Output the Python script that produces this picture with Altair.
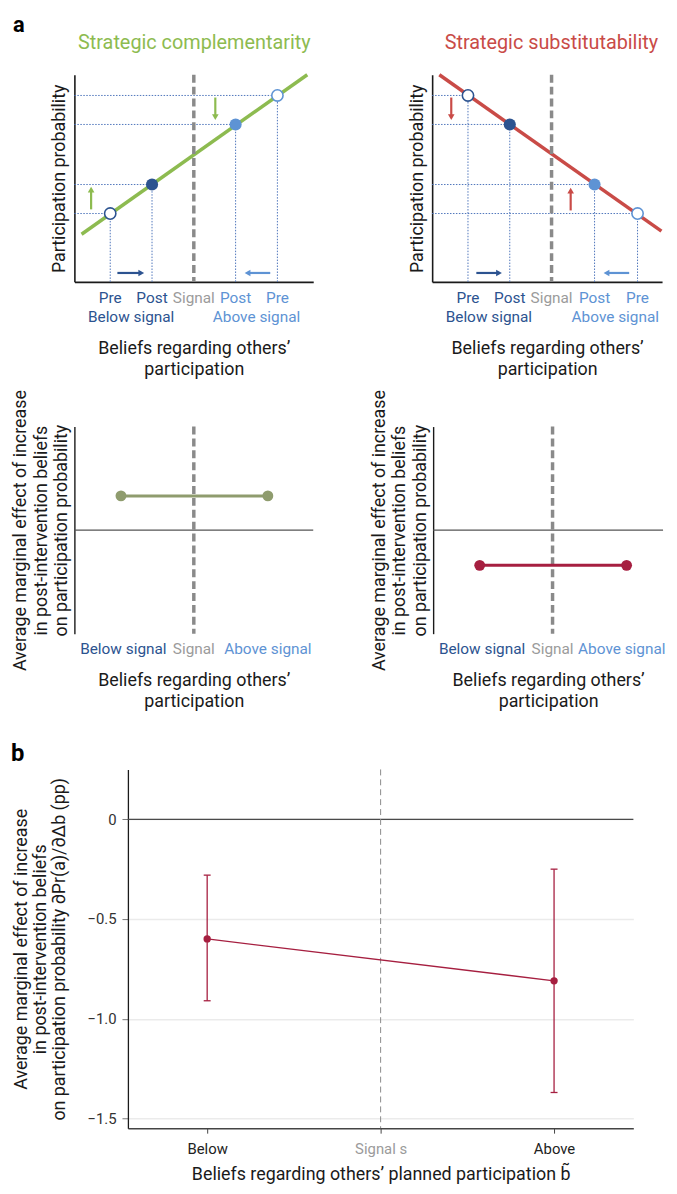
import altair as alt
import pandas as pd

# ---------------- data ----------------
# Panel a, top row: schematic beliefs (x) vs participation probability (y), 0-10 scale
comp_line_x = [0.3, 9.75]
comp_line_y = [2.3, 10.0]
subs_line_x = [0.3, 9.6]
subs_line_y = [10.0, 2.45]

pt_stage = ["Pre", "Post", "Post", "Pre"]
pt_side = ["below", "below", "above", "above"]
comp_pt_x = [1.5, 3.25, 6.75, 8.5]
comp_pt_y = [3.3, 4.7, 7.6, 9.0]
subs_pt_x = [1.5, 3.25, 6.8, 8.6]
subs_pt_y = [9.0, 7.6, 4.7, 3.3]
signal_x = [5.0]

arrow_kind = ["effect", "effect", "below", "above"]
comp_arrow_dir = ["up", "down", "right", "left"]
comp_arrow_x = [0.7, 5.9, 1.8, 8.2]
comp_arrow_y = [3.5, 8.9, 0.43, 0.43]
comp_arrow_x2 = [0.7, 5.9, 2.8, 7.25]
comp_arrow_y2 = [4.45, 7.95, 0.43, 0.43]
subs_arrow_dir = ["down", "up", "right", "left"]
subs_arrow_x = [0.8, 5.8, 1.85, 8.25]
subs_arrow_y = [8.9, 3.45, 0.43, 0.43]
subs_arrow_x2 = [0.8, 5.8, 2.8, 7.3]
subs_arrow_y2 = [7.95, 4.4, 0.43, 0.43]

tick_text = ["Pre", "Post", "Signal", "Post", "Pre"]
tick_side = ["below", "below", "signal", "above", "above"]
comp_tick_x = [1.5, 3.25, 5.0, 6.75, 8.5]
subs_tick_x = [1.5, 3.25, 5.0, 6.8, 8.6]
group_text = ["Below signal", "Above signal"]
group_side = ["below", "above"]
comp_group_x = [2.375, 7.625]
comp_group_align = ["center", "center"]
subs_group_x = [2.375, 9.5]
subs_group_align = ["center", "right"]

# Panel a, middle row: schematic average marginal effect (-1..1)
mid_x = [1.95, 8.1]
comp_effect = [0.33, 0.33]
subs_effect = [-0.34, -0.34]
mid_label_text = ["Below signal", "Signal", "Above signal"]
mid_label_side = ["below", "signal", "above"]
comp_mid_label_x = [2.05, 5.0, 8.1]
comp_mid_align = ["center", "center", "center"]
subs_mid_label_x = [2.05, 5.0, 7.9]
subs_mid_align = ["center", "center", "center"]

# Panel b: estimates with 95% CI
b_group = ["Below", "Above"]
b_x = [1, 3]
b_est = [-0.60, -0.81]
b_lo = [-0.91, -1.37]
b_hi = [-0.28, -0.25]
b_tick_x = [1, 2, 3]
b_tick_text = ["Below", "Signal s", "Above"]
b_signal_x = [2]
b_y_ticks = [0, -0.5, -1.0, -1.5]

# ---------------- styling ----------------
FONT = "Roboto"
NAVY = "#2c5390"
LBLUE = "#5e93d4"
SGRAY = "#9b9b9b"
GREEN = "#8dbb50"
RED = "#c94b47"
OLIVE = "#8f9c6e"
CRIMSON = "#a61f40"
DOT = "#4f75bb"
DASH = "#8a8a8a"
INK = "#1a1a1a"
SIDE_COLOR = {"below": NAVY, "signal": SGRAY, "above": LBLUE}
SHAPE = {"up": "triangle-up", "down": "triangle-down",
         "right": "triangle-right", "left": "triangle-left"}

H = 209
BELIEF_TITLE = ["Beliefs regarding others\u2019", "participation"]
AME_TITLE = ["Average marginal effect of increase", "in post-intervention beliefs",
             "on participation probability"]
ONE = pd.DataFrame({"k": [0]})


def anchors(points):
    """Invisible layout anchors that fix the extent of a row."""
    return [alt.Chart(ONE).mark_square(size=1, opacity=0, strokeWidth=0).encode(
        x=alt.value(px), y=alt.value(py)) for px, py in points]


def label_layers(df, aligns, X, ypix):
    """Text labels, one layer per horizontal alignment."""
    df = df.copy()
    df["a"] = aligns
    out = []
    for a in dict.fromkeys(aligns):
        out.append(alt.Chart(df[df.a == a]).mark_text(
            fontSize=15.5, baseline="middle", align=a).encode(
            x=X("x:Q"), y=alt.value(ypix), text="t:N",
            color=alt.Color("c:N", scale=None)))
    return out


def top_panel(title, tcolor, title_x, title_align, lcolor, line_x, line_y, px, py,
              ax, ay, ax2, ay2, adir, tx, gx, galign, width, xmax,
              letter=None, extent=None):
    xs = alt.Scale(domain=[0, xmax], nice=False, zero=False)
    ys = alt.Scale(domain=[0, 10], nice=False, zero=False)
    xaxis = alt.Axis(title=BELIEF_TITLE, labels=False, ticks=False, grid=False,
                     domainColor=INK, domainWidth=1.6, titlePadding=58,
                     titleFontSize=18, titleLineHeight=21, titleColor=INK,
                     titleFontWeight="normal")
    yaxis = alt.Axis(title="Participation probability", labels=False, ticks=False,
                     grid=False, domainColor=INK, domainWidth=1.6,
                     titlePadding=6, titleFontSize=18, titleColor=INK,
                     titleFontWeight="normal")

    def X(f):
        return alt.X(f, scale=xs, axis=xaxis)

    def Y(f):
        return alt.Y(f, scale=ys, axis=yaxis)

    pts = pd.DataFrame({"x": px, "y": py, "stage": pt_stage, "side": pt_side})
    pts["x0"] = 0.0
    pts["y0"] = 0.0
    pts["c"] = [SIDE_COLOR[s] for s in pt_side]
    dotted = dict(color=DOT, strokeDash=[1.5, 1.5], strokeWidth=1)
    hguide = alt.Chart(pts).mark_rule(**dotted).encode(x=X("x0:Q"), x2="x:Q", y=Y("y:Q"))
    vguide = alt.Chart(pts).mark_rule(**dotted).encode(x=X("x:Q"), y=Y("y0:Q"), y2="y:Q")
    sig = alt.Chart(pd.DataFrame({"x": signal_x})).mark_rule(
        color=DASH, strokeWidth=3.5, strokeDash=[8, 4]).encode(x=X("x:Q"))
    ln = alt.Chart(pd.DataFrame({"x": line_x, "y": line_y})).mark_line(
        color=lcolor, strokeWidth=3.5).encode(x=X("x:Q"), y=Y("y:Q"))
    post = alt.Chart(pts[pts.stage == "Post"]).mark_circle(size=150, opacity=1).encode(
        x=X("x:Q"), y=Y("y:Q"), color=alt.Color("c:N", scale=None))
    pre = alt.Chart(pts[pts.stage == "Pre"]).mark_point(
        shape="circle", fill="white", filled=False, size=130, strokeWidth=1.6,
        opacity=1).encode(x=X("x:Q"), y=Y("y:Q"), color=alt.Color("c:N", scale=None))
    arr = pd.DataFrame({"x": ax, "y": ay, "x2": ax2, "y2": ay2,
                        "kind": arrow_kind, "dir": adir})
    arr["c"] = [lcolor if k == "effect" else SIDE_COLOR[k] for k in arrow_kind]
    arr["s"] = [SHAPE[d] for d in adir]
    shaft = alt.Chart(arr).mark_rule(strokeWidth=2.2).encode(
        x=X("x:Q"), y=Y("y:Q"), x2="x2:Q", y2="y2:Q", color=alt.Color("c:N", scale=None))
    head = alt.Chart(arr).mark_point(filled=True, size=45, opacity=1).encode(
        x=X("x2:Q"), y=Y("y2:Q"), shape=alt.Shape("s:N", scale=None),
        color=alt.Color("c:N", scale=None))
    tdf = pd.DataFrame({"x": tx, "t": tick_text})
    tdf["c"] = [SIDE_COLOR[s] for s in tick_side]
    ticks = label_layers(tdf, ["center"] * len(tick_text), X, H + 16)
    gdf = pd.DataFrame({"x": gx, "t": group_text})
    gdf["c"] = [SIDE_COLOR[s] for s in group_side]
    groups = label_layers(gdf, galign, X, H + 35)
    ttl = alt.Chart(pd.DataFrame({"t": [title]})).mark_text(
        fontSize=20, color=tcolor, baseline="middle", align=title_align).encode(
        x=alt.value(title_x), y=alt.value(-32), text="t:N")
    layers = [hguide, vguide, ln, sig, pre, post, shaft, head, *ticks, *groups, ttl]
    if letter:
        layers.append(alt.Chart(pd.DataFrame({"t": [letter]})).mark_text(
            fontSize=22, fontWeight="bold", align="left", baseline="middle",
            color="#000").encode(x=alt.value(-62), y=alt.value(-50), text="t:N"))
    if extent:
        layers += anchors(extent)
    return alt.layer(*layers).properties(width=width, height=H)


def mid_panel(color, effect, label_x, label_align, width, xmax, extent=None):
    xs = alt.Scale(domain=[0, xmax], nice=False, zero=False)
    ys = alt.Scale(domain=[-1, 1], nice=False, zero=False)
    yaxis = alt.Axis(title=AME_TITLE, labels=False, ticks=False, grid=False,
                     domainColor=INK, domainWidth=1.4, titlePadding=4, titleFontSize=18,
                     titleLineHeight=20.5, titleColor=INK, titleFontWeight="normal")
    xaxis = alt.Axis(title=BELIEF_TITLE, labels=False, ticks=False,
                     domain=False, grid=False, titlePadding=38, titleFontSize=18,
                     titleLineHeight=21, titleColor=INK, titleFontWeight="normal")

    def X(f):
        return alt.X(f, scale=xs, axis=xaxis)

    def Y(f):
        return alt.Y(f, scale=ys, axis=yaxis)

    zero = alt.Chart(pd.DataFrame({"y": [0.0]})).mark_rule(
        color="#555555", strokeWidth=1.3).encode(y=Y("y:Q"))
    sig = alt.Chart(pd.DataFrame({"x": signal_x})).mark_rule(
        color=DASH, strokeWidth=3.5, strokeDash=[8, 4]).encode(x=X("x:Q"))
    edf = pd.DataFrame({"x": mid_x, "y": effect})
    ln = alt.Chart(edf).mark_line(color=color, strokeWidth=3).encode(x=X("x:Q"), y=Y("y:Q"))
    pts = alt.Chart(edf).mark_circle(color=color, size=120, opacity=1).encode(
        x=X("x:Q"), y=Y("y:Q"))
    ldf = pd.DataFrame({"x": label_x, "t": mid_label_text})
    ldf["c"] = [SIDE_COLOR[s] for s in mid_label_side]
    labels = label_layers(ldf, label_align, X, H + 15)
    layers = [zero, sig, ln, pts, *labels]
    if extent:
        layers += anchors(extent)
    return alt.layer(*layers).properties(width=width, height=H)


PX = 24.1  # pixels per schematic unit in panel a
TL = top_panel("Strategic complementarity", GREEN, 121, "center", GREEN,
               comp_line_x, comp_line_y, comp_pt_x, comp_pt_y, comp_arrow_x,
               comp_arrow_y, comp_arrow_x2, comp_arrow_y2, comp_arrow_dir, comp_tick_x,
               comp_group_x, comp_group_align, 241, 241 / PX,
               letter="a", extent=[(-66, -61), (-66, 312)])
TR = top_panel("Strategic substitutability", RED, 228, "right", RED,
               subs_line_x, subs_line_y, subs_pt_x, subs_pt_y, subs_arrow_x,
               subs_arrow_y, subs_arrow_x2, subs_arrow_y2, subs_arrow_dir, subs_tick_x,
               subs_group_x, subs_group_align, 232, 232 / PX)
ML = mid_panel(OLIVE, comp_effect, comp_mid_label_x, comp_mid_align, 241, 241 / PX,
               extent=[(-66, -41), (-66, 296)])
MR = mid_panel(CRIMSON, subs_effect, subs_mid_label_x, subs_mid_align, 232, 232 / PX)

# ---- panel b ----
BW, BH = 510, 362
bxs = alt.Scale(domain=[0.543, 3.457], nice=False, zero=False)
bys = alt.Scale(domain=[-1.549, 0.25], nice=False, zero=False)
label_expr = " : ".join(
    f"datum.value == {v} ? '{t}'" for v, t in zip(b_tick_x[:-1], b_tick_text[:-1])
) + f" : '{b_tick_text[-1]}'"
bxaxis = alt.Axis(values=b_tick_x, labelExpr=label_expr, grid=False, domainColor="#444444",
                  domainWidth=1.5, tickColor="#444444", tickSize=5, labelPadding=9,
                  labelFontSize=15,
                  labelColor={"condition": {"test": "datum.value == 2", "value": SGRAY},
                              "value": "#222222"},
                  title="Beliefs regarding others\u2019 planned participation b\u0303",
                  titleFontSize=18, titleFontWeight="normal", titleColor=INK,
                  titlePadding=9)
byaxis = alt.Axis(values=b_y_ticks,
                  labelExpr="datum.value == 0 ? '0' : replace(format(datum.value, '.1f'), '-', '\u2212')",
                  grid=True, gridColor="#ebebeb", gridWidth=1.5, domainColor=INK,
                  domainWidth=1.3, tickColor="#777777", tickSize=6, labelPadding=6,
                  labelFontSize=15, labelColor="#333333",
                  title=AME_TITLE[:2] + ["on participation probability \u2202Pr(a)/\u2202\u0394b (pp)"],
                  titleFontSize=18, titleLineHeight=19, titleFontWeight="normal",
                  titleColor=INK, titlePadding=19)


def BX(f):
    return alt.X(f, scale=bxs, axis=bxaxis)


def BY(f):
    return alt.Y(f, scale=bys, axis=byaxis)


bdf = pd.DataFrame({"x": b_x, "est": b_est, "lo": b_lo, "hi": b_hi, "grp": b_group})
b_zero = alt.Chart(pd.DataFrame({"y": [0.0]})).mark_rule(
    color="#4a4a4a", strokeWidth=1.3).encode(y=BY("y:Q"))
b_sig = alt.Chart(pd.DataFrame({"x": b_signal_x})).mark_rule(
    color="#8a8a8a", strokeWidth=1, strokeDash=[6, 4]).encode(x=BX("x:Q"))
b_err = alt.Chart(bdf).mark_rule(color=CRIMSON, strokeWidth=1.3).encode(
    x=BX("x:Q"), y=BY("lo:Q"), y2="hi:Q")
b_cap_lo = alt.Chart(bdf).mark_rule(color=CRIMSON, strokeWidth=1.3, xOffset=-3.5,
                                    x2Offset=3.5).encode(x=BX("x:Q"), x2="x:Q", y=BY("lo:Q"))
b_cap_hi = alt.Chart(bdf).mark_rule(color=CRIMSON, strokeWidth=1.3, xOffset=-3.5,
                                    x2Offset=3.5).encode(x=BX("x:Q"), x2="x:Q", y=BY("hi:Q"))
b_line = alt.Chart(bdf).mark_line(color=CRIMSON, strokeWidth=1.3).encode(
    x=BX("x:Q"), y=BY("est:Q"))
b_pts = alt.Chart(bdf).mark_circle(color=CRIMSON, size=55, opacity=1).encode(
    x=BX("x:Q"), y=BY("est:Q"))
b_letter = alt.Chart(pd.DataFrame({"t": ["b"]})).mark_text(
    fontSize=24, fontWeight="bold", align="left", baseline="middle", color="#000").encode(
    x=alt.value(-118), y=alt.value(-16), text="t:N")
B = alt.layer(b_zero, b_sig, b_err, b_cap_lo, b_cap_hi, b_line, b_pts, b_letter,
              *anchors([(0, -48)])).properties(width=BW, height=BH)

spacer = alt.Chart(ONE).mark_square(size=1, opacity=0, strokeWidth=0).encode(
    x=alt.value(0), y=alt.value(0)).properties(width=54, height=10)

row1 = alt.hconcat(TL, TR, spacing=120, bounds="flush")
row2 = alt.hconcat(ML, MR, spacing=121, bounds="flush")
rowB = alt.hconcat(spacer, B, spacing=0, bounds="flush")

chart = alt.vconcat(row1, row2, rowB, spacing=0).properties(
    padding=0
).configure(font=FONT).configure_view(stroke=None).configure_axis(
    labelFont=FONT, titleFont=FONT
).configure_text(font=FONT)

chart.save("out.html", embed_options={"renderer": "svg", "actions": False})
